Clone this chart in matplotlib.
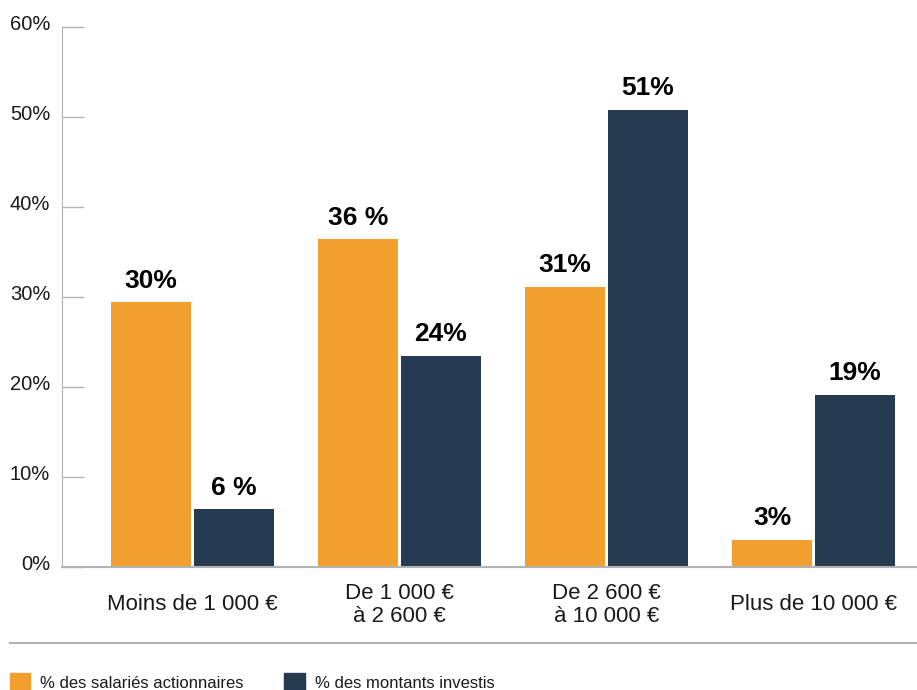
import numpy as np
import matplotlib.pyplot as plt
import matplotlib.transforms as mtransforms
from matplotlib.patches import Rectangle
from matplotlib.lines import Line2D

plt.rcParams['font.family'] = ['Liberation Sans', 'DejaVu Sans']

# Donnees
categories = ["Moins de 1 000 €", "De 1 000 €\nà 2 600 €", "De 2 600 €\nà 10 000 €", "Plus de 10 000 €"]
salaries = [29.4, 36.4, 31.1, 3.0]
montants = [6.4, 23.5, 50.8, 19.1]
etiq_salaries = ["30%", "36 %", "31%", "3%"]
etiq_montants = ["6 %", "24%", "51%", "19%"]
legende = ["% des salariés actionnaires", "% des montants investis"]

orange = "#F39F2F"
marine = "#263A52"
gris = "#B3B3B3"

fig = plt.figure(figsize=(9.17, 6.9), dpi=100)
ax = fig.add_axes([62/917, 123/690, 1 - 62/917, 540/690])

x = np.arange(len(categories))
larg = 0.386
dec = 0.2005
b1 = ax.bar(x - dec, salaries, width=larg, color=orange)
b2 = ax.bar(x + dec, montants, width=larg, color=marine)

for barres, etiq in [(b1, etiq_salaries), (b2, etiq_montants)]:
    for b, t in zip(barres, etiq):
        ax.annotate(t, (b.get_x() + b.get_width()/2, b.get_height()),
                    xytext=(0, 7), textcoords="offset points",
                    ha="center", va="bottom", fontsize=19, fontweight="bold")

ax.set_xlim(-0.630, 3.50)
ax.set_ylim(0, 60)
ax.set_yticks(np.arange(0, 61, 10))
ax.set_yticklabels([f"{v}%" for v in range(0, 61, 10)], fontsize=14.5, color="#1a1a1a")
ax.tick_params(axis="y", direction="in", length=16, width=1, color=gris, pad=8.5)
ax.tick_params(axis="x", length=0)
ax.set_xticks([])
decal = mtransforms.ScaledTranslation(0, 4/100, fig.dpi_scale_trans)
for lab in ax.get_yticklabels():
    lab.set_transform(lab.get_transform() + decal)

for i, c in enumerate(categories):
    ax.text(i, -4.2, c, ha="center", va="center", fontsize=16, linespacing=1.15,
            color="#1a1a1a", transform=ax.transData)

ax.spines["top"].set_visible(False)
ax.spines["right"].set_visible(False)
ax.spines["left"].set_color(gris)
ax.spines["bottom"].set_color(gris)
ax.spines["bottom"].set_linewidth(1.5)

# ligne de separation et legende
fig.add_artist(Line2D([10/917, 1], [1 - 643/690] * 2, color=gris, lw=1.5))
fig.add_artist(Rectangle((10/917, 0), 20/917, 17/690, color=orange))
fig.add_artist(Rectangle((284/917, 0), 21/917, 17/690, color=marine))
fig.text(40/917, 1 - 683/690, legende[0], fontsize=12, va="center", color="#1a1a1a")
fig.text(315/917, 1 - 683/690, legende[1], fontsize=12, va="center", color="#1a1a1a")

fig.savefig("out.png", dpi=100)
